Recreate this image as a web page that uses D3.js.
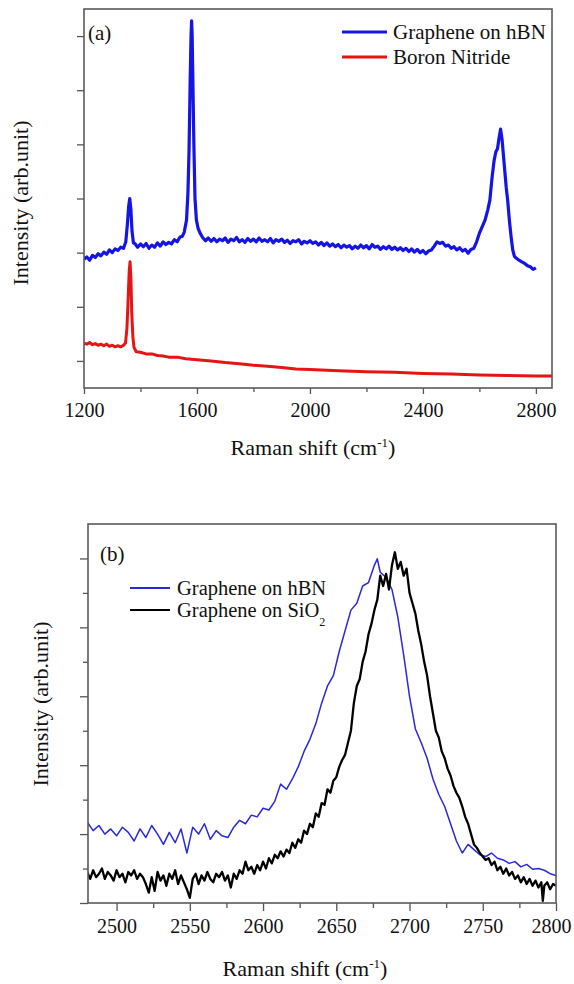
<!DOCTYPE html>
<html>
<head>
<meta charset="utf-8">
<script src="https://cdn.jsdelivr.net/npm/d3@7"></script>
<style>
  html, body { margin: 0; padding: 0; background: #fff; }
  svg { display: block; }
  svg text { font-family: "Liberation Serif", "Times New Roman", "DejaVu Serif", serif; fill: #111; }
</style>
</head>
<body>
<svg id="chart" width="574" height="984" font-family="Liberation Serif, serif"></svg>
<script>
// ---------- Panel (a): full Raman spectra ----------
const shiftA_hbn = [1200,1210,1220,1230,1240,1250,1260,1270,1280,1290,1300,1310,1320,1330,1340,1348,1354,1358,1362,1366,1370,1375,1380,1390,1400,1410,1420,1430,1440,1450,1460,1470,1480,1490,1500,1510,1520,1530,1540,1548,1555,1563,1568,1572,1576,1579,1581,1583,1586,1589,1593,1598,1604,1611,1620,1630,1640,1650,1660,1670,1680,1690,1700,1710,1720,1730,1740,1750,1760,1770,1780,1790,1800,1810,1820,1830,1840,1850,1860,1870,1880,1890,1900,1910,1920,1930,1940,1950,1960,1970,1980,1990,2000,2010,2020,2030,2040,2050,2060,2070,2080,2090,2100,2110,2120,2130,2140,2150,2160,2170,2180,2190,2200,2210,2220,2230,2240,2250,2260,2270,2280,2290,2300,2310,2320,2330,2340,2350,2360,2370,2380,2390,2400,2410,2420,2430,2440,2450,2460,2470,2480,2490,2500,2510,2520,2530,2540,2550,2560,2570,2580,2590,2600,2610,2620,2630,2637,2645,2652,2658,2664,2669,2675,2680,2685,2690,2695,2700,2706,2712,2718,2724,2730,2740,2750,2760,2770,2780,2790,2800];
const intA_hbn = [1.88,1.92,1.86,1.95,1.91,1.98,1.94,2.01,1.97,2.05,2.0,2.07,2.04,2.1,2.08,2.2,2.55,2.85,3.0,2.8,2.4,2.18,2.17,2.1,2.16,2.11,2.17,2.08,2.14,2.1,2.18,2.12,2.2,2.15,2.19,2.16,2.24,2.2,2.29,2.3,2.38,2.6,3.1,3.9,5.2,6.0,6.28,6.0,5.0,4.0,3.0,2.6,2.45,2.36,2.28,2.22,2.27,2.21,2.26,2.2,2.25,2.22,2.27,2.19,2.25,2.22,2.28,2.2,2.24,2.19,2.26,2.21,2.25,2.2,2.27,2.21,2.24,2.2,2.26,2.18,2.24,2.21,2.25,2.19,2.23,2.17,2.22,2.2,2.24,2.16,2.21,2.18,2.22,2.17,2.2,2.14,2.19,2.13,2.18,2.12,2.16,2.11,2.15,2.09,2.14,2.1,2.13,2.07,2.12,2.08,2.14,2.09,2.13,2.07,2.15,2.1,2.12,2.06,2.11,2.07,2.12,2.06,2.1,2.05,2.09,2.04,2.08,2.02,2.07,2.01,2.06,2.0,2.04,1.98,2.03,2.05,2.12,2.2,2.17,2.19,2.12,2.14,2.08,2.11,2.05,2.09,2.03,2.06,1.99,2.06,2.08,2.2,2.36,2.48,2.6,2.8,2.97,3.4,3.7,3.86,3.92,4.1,4.28,4.1,3.8,3.5,3.2,2.97,2.6,2.3,2.05,1.93,1.9,1.86,1.83,1.8,1.76,1.74,1.69,1.72];

const shiftA_bn = [1200,1210,1220,1230,1240,1250,1260,1270,1280,1290,1300,1310,1320,1330,1340,1347,1352,1356,1360,1363,1366,1369,1373,1377,1385,1400,1420,1440,1460,1480,1500,1530,1560,1600,1650,1700,1750,1800,1850,1900,1950,2000,2100,2200,2300,2400,2500,2600,2700,2800,2860];
const intA_bn = [0.33,0.31,0.34,0.3,0.32,0.29,0.31,0.28,0.31,0.27,0.29,0.26,0.28,0.26,0.29,0.33,0.6,1.1,1.65,1.83,1.55,0.9,0.45,0.25,0.17,0.16,0.13,0.13,0.1,0.09,0.07,0.07,0.04,0.02,0.0,-0.03,-0.05,-0.08,-0.1,-0.12,-0.15,-0.16,-0.18,-0.2,-0.21,-0.23,-0.24,-0.26,-0.27,-0.28,-0.28];

const ticksA_x = [1200, 1600, 2000, 2400, 2800];
const minorA_x = [1400, 1800, 2200, 2600];
const ticksA_y = [0, 1, 2, 3, 4, 5, 6];

// ---------- Panel (b): 2D band comparison ----------
const shiftB_hbn = [2480,2484,2488,2492,2496,2500,2504,2508,2512,2516,2520,2524,2528,2532,2536,2540,2544,2548,2552,2556,2560,2564,2568,2572,2576,2580,2584,2588,2592,2596,2600,2604,2608,2612,2616,2620,2624,2628,2632,2636,2640,2644,2648,2652,2656,2660,2664,2668,2672,2676,2678,2680,2684,2688,2692,2696,2700,2704,2708,2712,2716,2720,2724,2728,2732,2736,2740,2744,2748,2752,2756,2760,2764,2768,2772,2776,2780,2784,2788,2792,2796,2800];
const intB_hbn = [2.35,2.1,2.25,2.0,2.15,1.95,2.2,2.05,1.8,2.15,1.9,2.25,2.0,1.7,2.05,1.75,2.15,1.45,2.2,2.0,2.3,1.85,2.1,1.95,1.9,2.2,2.4,2.3,2.55,2.5,2.75,2.7,2.95,3.45,3.3,3.6,3.95,4.4,4.75,5.2,5.8,6.3,6.6,7.3,7.9,8.5,8.7,9.2,9.3,9.8,9.99,9.6,9.45,9.1,8.3,7.2,6.0,5.05,4.65,4.2,3.6,3.15,2.8,2.3,1.8,1.45,1.7,1.55,1.4,1.35,1.45,1.3,1.25,1.15,1.2,1.05,1.12,0.98,1.0,0.95,0.85,0.8];

const shiftB_sio2 = [2480,2482,2484,2486,2488,2490,2492,2494,2496,2498,2500,2502,2504,2506,2508,2510,2512,2514,2516,2518,2520,2522,2524,2526,2528,2530,2532,2534,2536,2538,2540,2542,2544,2546,2548,2550,2552,2554,2556,2558,2560,2562,2564,2566,2568,2570,2572,2574,2576,2578,2580,2582,2584,2586,2588,2590,2592,2594,2596,2598,2600,2602,2604,2606,2608,2610,2612,2614,2616,2618,2620,2622,2624,2626,2628,2630,2632,2634,2636,2638,2640,2642,2644,2646,2648,2650,2652,2654,2656,2658,2660,2662,2664,2666,2668,2670,2672,2674,2676,2678,2680,2682,2684,2686,2688,2690,2692,2694,2696,2698,2700,2702,2704,2706,2708,2710,2712,2714,2716,2718,2720,2722,2724,2726,2728,2730,2732,2734,2736,2738,2740,2742,2744,2746,2748,2750,2752,2754,2756,2758,2760,2762,2764,2766,2768,2770,2772,2774,2776,2778,2780,2782,2784,2786,2788,2790,2791,2792,2794,2796,2798,2800];
const intB_sio2 = [0.9,0.7,0.95,0.75,0.85,1.0,0.7,0.9,0.8,0.65,0.95,0.75,0.85,0.6,0.9,0.8,0.95,0.7,0.85,0.75,0.55,0.3,0.75,0.35,0.9,0.65,0.8,0.5,0.85,0.7,0.95,0.55,0.8,0.6,0.4,0.15,0.7,0.85,0.55,0.8,0.65,0.9,0.7,0.6,0.85,0.75,0.9,0.65,0.8,0.45,0.85,0.7,0.95,0.85,1.2,0.95,1.05,0.85,1.1,0.95,1.2,1.0,1.3,1.15,1.4,1.3,1.5,1.35,1.55,1.45,1.75,1.6,1.85,1.75,2.1,2.0,2.3,2.2,2.6,2.5,2.9,2.85,3.3,3.2,3.55,3.65,3.95,4.15,4.3,4.65,5.0,5.8,6.3,6.5,7.0,7.3,7.8,8.1,8.5,8.8,9.5,9.2,9.55,9.1,9.8,10.18,9.7,9.9,9.5,9.7,9.0,8.7,8.4,7.9,7.5,7.0,6.6,6.0,5.5,5.0,4.8,4.4,4.2,3.9,3.7,3.4,3.2,3.05,2.8,2.5,2.3,2.0,1.7,1.6,1.45,1.35,1.25,1.3,1.1,1.2,0.95,1.05,0.85,1.0,0.8,0.9,0.7,0.8,0.6,0.75,0.55,0.7,0.5,0.65,0.45,0.6,0.06,0.5,0.6,0.4,0.55,0.5];

const ticksB_x = [2500, 2550, 2600, 2650, 2700, 2750, 2800];
const minorB_x = [2525, 2575, 2625, 2675, 2725, 2775];
const ticksB_y = [0, 2, 4, 6, 8, 10];
const minorB_y = [1, 3, 5, 7, 9];

const svg = d3.select("#chart");
const SERIF = '"Liberation Serif", "Times New Roman", serif';

function styleTicks(axisG) {
  axisG.attr("font-family", null).attr("font-size", null);
  axisG.select(".domain").remove();
  axisG.selectAll("line").attr("stroke", "#555").attr("stroke-width", 1.3);
}

function drawPanel(cfg) {
  const { left, top, right, bottom } = cfg.box;
  const x = d3.scaleLinear().domain(cfg.xDomain).range([left, right]);
  const y = d3.scaleLinear().domain(cfg.yDomain).range([bottom, top]);
  const g = svg.append("g");

  const clipId = "clip-" + cfg.name;
  svg.append("clipPath").attr("id", clipId)
    .append("rect").attr("x", left).attr("y", top)
    .attr("width", right - left).attr("height", bottom - top);

  // spectra
  const line = d3.line().x(d => x(d[0])).y(d => y(d[1]));
  cfg.series.forEach(s => {
    const pts = s.shift.map((v, i) => [v, s.intensity[i]]);
    g.append("path").datum(pts)
      .attr("clip-path", `url(#${clipId})`)
      .attr("fill", "none").attr("stroke", s.color)
      .attr("stroke-width", s.width).attr("stroke-linejoin", "round")
      .attr("d", line);
  });

  // x axis: labelled major ticks and short minor ticks
  const xAxis = g.append("g").attr("transform", `translate(0,${bottom})`)
    .call(d3.axisBottom(x).tickValues(cfg.xTicks).tickSize(cfg.xTickLen).tickFormat(d3.format("d")));
  styleTicks(xAxis);
  xAxis.selectAll("text").attr("dy", null).attr("y", cfg.xLabelY)
    .attr("font-size", 20).attr("fill", "#111")
    .style("font-family", SERIF)
    .attr("x", d => (d === cfg.xDomain[1] || d === 2800 && cfg.name === "b") ? -5 : 0);
  const xMinor = g.append("g").attr("transform", `translate(0,${bottom})`)
    .call(d3.axisBottom(x).tickValues(cfg.xMinor).tickSize(cfg.xMinorLen).tickFormat(""));
  styleTicks(xMinor);

  // y axis: tick marks only
  const yAxis = g.append("g").attr("transform", `translate(${left},0)`)
    .call(d3.axisLeft(y).tickValues(cfg.yTicks).tickSize(cfg.yTickLen).tickFormat(""));
  styleTicks(yAxis);
  if (cfg.yMinor) {
    const yMinor = g.append("g").attr("transform", `translate(${left},0)`)
      .call(d3.axisLeft(y).tickValues(cfg.yMinor).tickSize(cfg.yMinorLen).tickFormat(""));
    styleTicks(yMinor);
  }

  // frame
  g.append("rect").attr("x", left).attr("y", top)
    .attr("width", right - left).attr("height", bottom - top)
    .attr("fill", "none").attr("stroke", "#5a5a5a").attr("stroke-width", 1.6);

  // panel tag
  g.append("text").attr("x", cfg.tag.x).attr("y", cfg.tag.y)
    .attr("font-size", 21).style("font-family", SERIF).text(cfg.tag.text);

  // legend
  cfg.series.forEach((s, i) => {
    const ly = cfg.legend.y + i * cfg.legend.gap;
    g.append("line").attr("x1", cfg.legend.x1).attr("x2", cfg.legend.x2)
      .attr("y1", ly).attr("y2", ly)
      .attr("stroke", s.color).attr("stroke-width", cfg.legend.width);
    const t = g.append("text").attr("x", cfg.legend.tx).attr("y", ly + cfg.legend.dy)
      .attr("font-size", cfg.legend.size).style("font-family", SERIF);
    t.append("tspan").text(s.label);
    if (s.sub) {
      t.append("tspan").attr("font-size", 12).attr("dy", 9).text(s.sub);
    }
  });

  // axis titles
  const xt = g.append("text").attr("x", cfg.xTitle.x).attr("y", cfg.xTitle.y)
    .attr("text-anchor", "middle").attr("font-size", 22).style("font-family", SERIF);
  xt.append("tspan").text("Raman shift (cm");
  xt.append("tspan").attr("font-size", 13).attr("dy", -8).text("-1");
  xt.append("tspan").attr("dy", 8).text(")");

  g.append("text")
    .attr("transform", `translate(${cfg.yTitle.x},${cfg.yTitle.y}) rotate(-90)`)
    .attr("text-anchor", "middle").attr("font-size", 22).style("font-family", SERIF)
    .text("Intensity (arb.unit)");
}

drawPanel({
  name: "a",
  box: { left: 84, top: 9, right: 552, bottom: 388 },
  xDomain: [1200, 2857], yDomain: [-0.5, 6.5],
  xTicks: ticksA_x, xMinor: minorA_x, xTickLen: 6, xMinorLen: 4, xLabelY: 29,
  yTicks: ticksA_y, yTickLen: 7,
  series: [
    { shift: shiftA_hbn, intensity: intA_hbn, color: "#1414e6", width: 3.2, label: "Graphene on hBN" },
    { shift: shiftA_bn, intensity: intA_bn, color: "#e61414", width: 3, label: "Boron Nitride" }
  ],
  legend: { x1: 342, x2: 387, tx: 393, y: 32, gap: 25, width: 3, dy: 7, size: 21 },
  tag: { x: 88, y: 40, text: "(a)" },
  xTitle: { x: 313, y: 455 },
  yTitle: { x: 28, y: 203 }
});

drawPanel({
  name: "b",
  box: { left: 88, top: 524, right: 556, bottom: 903 },
  xDomain: [2480.5, 2800], yDomain: [0, 11],
  xTicks: ticksB_x, xMinor: minorB_x, xTickLen: 8, xMinorLen: 5, xLabelY: 30,
  yTicks: ticksB_y, yMinor: minorB_y, yTickLen: 8, yMinorLen: 5,
  series: [
    { shift: shiftB_hbn, intensity: intB_hbn, color: "#2828dc", width: 1.5, label: "Graphene on hBN" },
    { shift: shiftB_sio2, intensity: intB_sio2, color: "#000000", width: 2.3, label: "Graphene on SiO", sub: "2" }
  ],
  legend: { x1: 130, x2: 170, tx: 177, y: 588, gap: 22, width: 2, dy: 6.5, size: 20.5 },
  tag: { x: 100, y: 561, text: "(b)" },
  xTitle: { x: 305, y: 976 },
  yTitle: { x: 48, y: 704 }
});
</script>
</body>
</html>
